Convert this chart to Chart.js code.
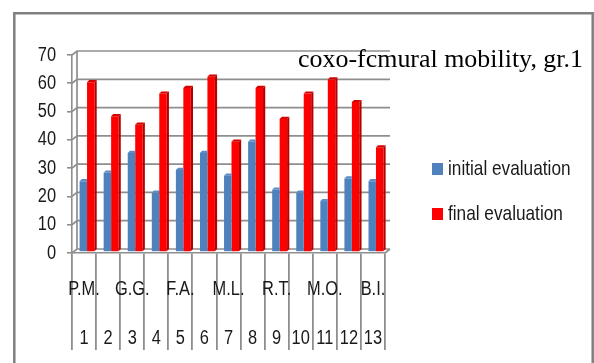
<!DOCTYPE html>
<html>
<head>
<meta charset="utf-8">
<script src="https://cdn.jsdelivr.net/npm/chart.js@4.4.0/dist/chart.umd.min.js"></script>
<style>
  html, body { margin: 0; padding: 0; background: #fff; }
  #wrap { width: 594px; height: 363px; position: relative; }
</style>
</head>
<body>
<div id="wrap"><canvas id="c" width="594" height="363"></canvas></div>
<script>
// Patients (initials shown on every other column) and case numbers
const patients = ['P.M.', '', 'G.G.', '', 'F.A.', '', 'M.L.', '', 'R.T.', '', 'M.O.', '', 'B.I.'];
const caseNumbers = ['1', '2', '3', '4', '5', '6', '7', '8', '9', '10', '11', '12', '13'];

// Hip (coxo-femoral) mobility scores
const initialEvaluation = [25, 28, 35, 21, 29, 35, 27, 39, 22, 21, 18, 26, 25];
const finalEvaluation   = [60, 48, 45, 56, 58, 62, 39, 58, 47, 56, 61, 53, 37];

const seriesNames = ['initial evaluation', 'final evaluation'];
const yMin = 0, yMax = 70, yStep = 10;
const chartTitle = 'coxo-fcmural mobility, gr.1';

// Styling
const GRID = '#8e8e8e';
const SANS = '"Liberation Sans", Arial, sans-serif';
const SERIF = '"Liberation Serif", "Times New Roman", serif';
const NARROW_X = 0.82;               // horizontal squeeze for a narrow face
const TEXT = '#1a1a1a';
const WALL = { dx: 5, dy: -4 };      // depth of the back wall
const SHIFT = { dx: 3, dy: -1 };     // columns sit half-way into the depth
const COL = { dx: 2.2, dy: -2.2 };   // visible depth of a column
const faces = [
  { front: '#4F81BD', side: '#385d8a', top: '#5d8cc6' },
  { front: '#FF0000', side: '#b40000', top: '#d40000' }
];

// Draws horizontally condensed text
function narrowText(ctx, text, x, y, size, align) {
  ctx.save();
  ctx.font = size + 'px ' + SANS;
  ctx.textBaseline = 'middle';
  ctx.textAlign = align;
  ctx.fillStyle = TEXT;
  ctx.translate(x, y);
  ctx.scale(NARROW_X, 1);
  ctx.fillText(text, 0, 0);
  ctx.restore();
}

// White page with the grey frame around the figure
const framePlugin = {
  id: 'frame',
  beforeDraw(chart) {
    const ctx = chart.ctx;
    ctx.save();
    ctx.fillStyle = '#fff';
    ctx.fillRect(0, 0, chart.width, chart.height);
    ctx.strokeStyle = '#808080';
    ctx.lineWidth = 2.5;
    ctx.beginPath();
    ctx.moveTo(14.3, chart.height);
    ctx.lineTo(14.3, 13.3);
    ctx.lineTo(592.7, 13.3);
    ctx.lineTo(592.7, chart.height);
    ctx.stroke();
    ctx.restore();
  }
};

// Back wall gridlines and the floor of the 3-D plot box, plus column faces
const wallPlugin = {
  id: 'wall',
  beforeDatasetsDraw(chart) {
    const { ctx, chartArea: a, scales: { y } } = chart;
    ctx.save();
    ctx.strokeStyle = GRID;
    ctx.lineWidth = 1.7;
    ctx.beginPath();
    y.ticks.forEach(t => {
      const py = y.getPixelForValue(t.value);
      ctx.moveTo(a.left, py);
      ctx.lineTo(a.left + WALL.dx, py + WALL.dy);
      ctx.lineTo(a.right + WALL.dx, py + WALL.dy);
    });
    const top = y.getPixelForValue(yMax), base = y.getPixelForValue(yMin);
    ctx.moveTo(a.left + WALL.dx, top + WALL.dy);
    ctx.lineTo(a.left + WALL.dx, base + WALL.dy);
    ctx.moveTo(a.right + WALL.dx, base + WALL.dy);
    ctx.lineTo(a.right, base);
    ctx.stroke();
    ctx.restore();

    ctx.save();
    ctx.translate(SHIFT.dx, SHIFT.dy);
  },
  afterDatasetsDraw(chart) {
    const ctx = chart.ctx;
    const n = chart.data.datasets.length;
    chart.data.datasets.forEach((ds, di) => {
      const meta = chart.getDatasetMeta(di);
      const f = faces[di];
      const last = di === n - 1;
      meta.data.forEach(bar => {
        const { x, y, base, width } = bar.getProps(['x', 'y', 'base', 'width'], true);
        const l = x - width / 2, r = x + width / 2;
        if (last) {
          ctx.fillStyle = f.side;
          ctx.beginPath();
          ctx.moveTo(r, y);
          ctx.lineTo(r + COL.dx, y + COL.dy);
          ctx.lineTo(r + COL.dx, base + COL.dy);
          ctx.lineTo(r, base);
          ctx.closePath();
          ctx.fill();
        }
        ctx.fillStyle = f.top;
        ctx.beginPath();
        ctx.moveTo(l, y);
        ctx.lineTo(l + COL.dx, y + COL.dy);
        ctx.lineTo(last ? r + COL.dx : r, y + COL.dy);
        ctx.lineTo(r, y);
        ctx.closePath();
        ctx.fill();
      });
    });
    ctx.restore();
  }
};

// Axis labels, title and legend
const labelsPlugin = {
  id: 'labels',
  afterDraw(chart) {
    const ctx = chart.ctx;
    const { x: xs, y: ys } = chart.scales;

    // value axis
    ys.ticks.forEach(t => {
      narrowText(ctx, String(t.value), 56, ys.getPixelForValue(t.value), 20, 'right');
    });

    // category axis: initials row and case-number row
    caseNumbers.forEach((num, i) => {
      const px = xs.getPixelForValue(i);
      if (patients[i]) narrowText(ctx, patients[i], px, 289, 20, 'center');
      narrowText(ctx, num, px, 338, 20, 'center');
    });

    // title
    ctx.save();
    ctx.fillStyle = '#000';
    ctx.font = '25px ' + SERIF;
    ctx.textBaseline = 'alphabetic';
    const w = ctx.measureText(chartTitle).width;
    ctx.translate(298, 67);
    ctx.scale(285 / w, 1);
    ctx.fillText(chartTitle, 0, 0);
    ctx.restore();

    // legend
    const rows = [169, 214];
    chart.data.datasets.forEach((ds, i) => {
      ctx.fillStyle = ds.backgroundColor;
      ctx.fillRect(432, rows[i] - 6, 11, 12);
      narrowText(ctx, ds.label, 448, rows[i], 21, 'left');
    });
  }
};

new Chart(document.getElementById('c'), {
  type: 'bar',
  data: {
    labels: caseNumbers.map((n, i) => [patients[i], n]),
    datasets: [
      { label: seriesNames[0], data: initialEvaluation, backgroundColor: faces[0].front, borderWidth: 0 },
      { label: seriesNames[1], data: finalEvaluation, backgroundColor: faces[1].front, borderWidth: 0 }
    ]
  },
  options: {
    responsive: false,
    animation: false,
    devicePixelRatio: 1,
    layout: { padding: { left: 0, top: 55, right: 209, bottom: 0 } },
    datasets: { bar: { categoryPercentage: 0.62, barPercentage: 1.0 } },
    plugins: { legend: { display: false }, title: { display: false }, tooltip: { enabled: false } },
    scales: {
      x: {
        offset: true,
        grid: { offset: true, drawOnChartArea: false, drawTicks: true, tickLength: 97, color: GRID, lineWidth: 1.8 },
        border: { display: true, color: GRID, width: 1.6 },
        ticks: { display: false },
        afterFit(scale) { scale.height = 110; }
      },
      y: {
        min: yMin, max: yMax,
        grid: { drawOnChartArea: false, drawTicks: true, tickLength: 5, color: GRID, lineWidth: 1.6 },
        border: { display: true, color: GRID, width: 1.6 },
        ticks: { display: false, stepSize: yStep },
        afterFit(scale) { scale.width = 72; }
      }
    }
  },
  plugins: [framePlugin, wallPlugin, labelsPlugin]
});
</script>
</body>
</html>
